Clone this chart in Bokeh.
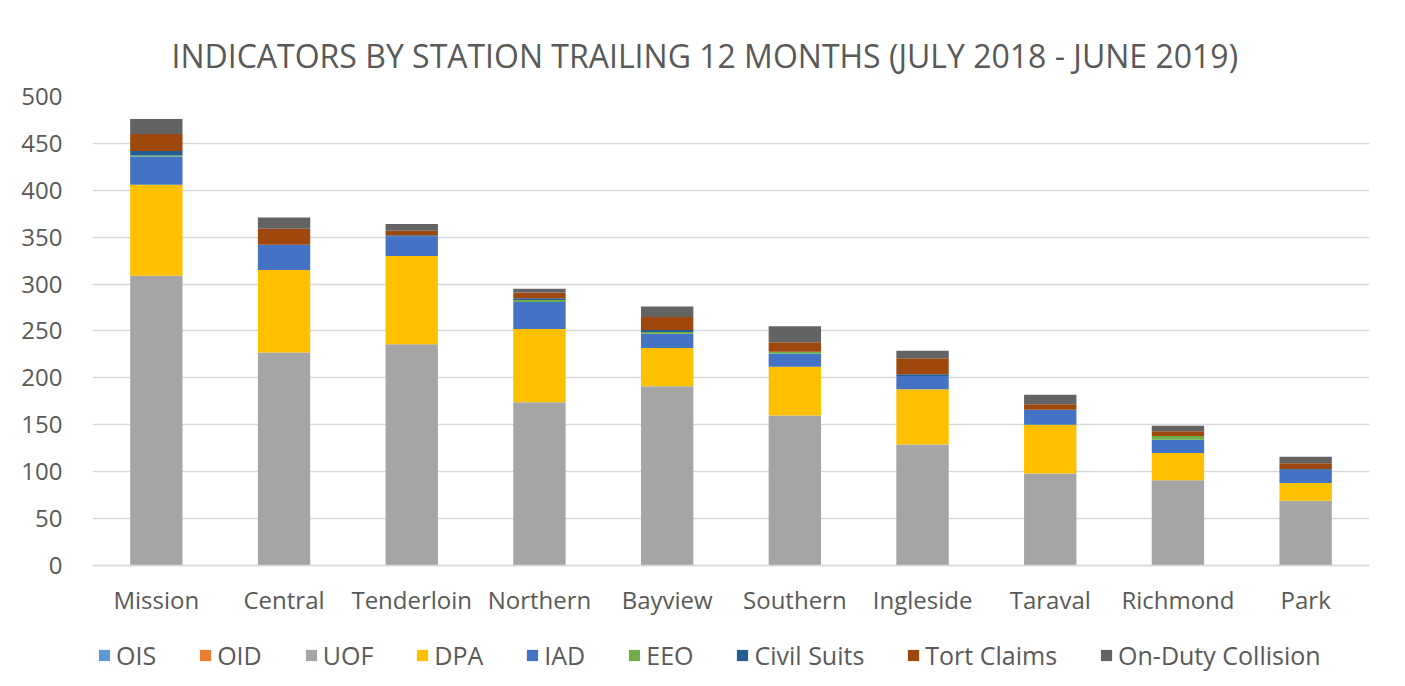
from bokeh.plotting import figure
from bokeh.models import Legend, LegendItem, Title, Range1d, FactorRange, ColumnDataSource
from bokeh.embed import file_html
from bokeh.resources import INLINE

stations = ["Mission", "Central", "Tenderloin", "Northern", "Bayview", "Southern",
            "Ingleside", "Taraval", "Richmond", "Park"]
OIS = [0, 0, 0, 0, 0, 0, 0, 0, 0, 0]
OID = [0, 0, 0, 0, 0, 0, 0, 0, 0, 0]
UOF = [309, 227, 236, 174, 191, 160, 129, 98, 91, 69]
DPA = [97, 88, 94, 78, 41, 52, 59, 52, 29, 19]
IAD = [30, 27, 21, 29, 15, 14, 14, 16, 14, 14]
EEO = [1, 0, 0, 2, 2, 2, 0, 0, 4, 0]
CIVIL = [5, 0, 1, 2, 2, 0, 2, 0, 0, 1]
TORT = [18, 17, 5, 6, 14, 10, 17, 6, 5, 6]
COLLISION = [16, 12, 7, 4, 11, 17, 8, 10, 6, 7]
y_ticks = [0, 50, 100, 150, 200, 250, 300, 350, 400, 450, 500]

series = ["OIS", "OID", "UOF", "DPA", "IAD", "EEO", "Civil Suits", "Tort Claims", "On-Duty Collision"]
colors = ["#5B9BD5", "#ED7D31", "#A5A5A5", "#FFC000", "#4472C4", "#70AD47", "#255E91", "#9E480E", "#636363"]

src = ColumnDataSource(data={
    "station": stations, "OIS": OIS, "OID": OID, "UOF": UOF, "DPA": DPA, "IAD": IAD,
    "EEO": EEO, "Civil Suits": CIVIL, "Tort Claims": TORT, "On-Duty Collision": COLLISION,
})

FONT = "Open Sans"
TXT = "#595959"

# frame reaches the bottom of the window; the value axis runs 0..500 and the
# space under zero holds the category labels and the legend
p = figure(x_range=FactorRange(*stations, range_padding=0), y_range=Range1d(-129, 500),
           frame_width=1277, frame_height=590, output_backend="svg", toolbar_location=None,
           min_border_left=92, min_border_right=28, min_border_top=96, min_border_bottom=0)

renderers = p.vbar_stack(series, x="station", width=0.41, color=colors, source=src,
                         line_color=None)

t = Title(text="INDICATORS BY STATION TRAILING 12 MONTHS (JULY 2018 - JUNE 2019)",
          align="left", offset=79, text_font=FONT, text_font_size="32px", text_color=TXT,
          text_font_style="normal", standoff=39)
p.add_layout(t, "above")

p.yaxis.ticker = y_ticks
p.yaxis.axis_line_color = None
p.yaxis.major_tick_line_color = None
p.yaxis.minor_tick_line_color = None
p.yaxis.major_label_text_font = FONT
p.yaxis.major_label_text_font_size = "24px"
p.yaxis.major_label_text_color = TXT
p.yaxis.major_label_standoff = 24

p.xaxis.fixed_location = 0
p.xaxis.axis_line_color = "#d9d9d9"
p.xaxis.axis_line_width = 1.5
p.xaxis.major_tick_line_color = None
p.xaxis.minor_tick_line_color = None
p.xaxis.major_label_text_font = FONT
p.xaxis.major_label_text_font_size = "24px"
p.xaxis.major_label_text_color = TXT
p.xaxis.major_label_standoff = 12

p.xgrid.grid_line_color = None
p.ygrid.grid_line_color = "#d9d9d9"
p.ygrid.grid_line_width = 1.5
p.outline_line_color = None

items = [LegendItem(label=s, renderers=[r]) for s, r in zip(series, renderers)]
legend = Legend(items=items, orientation="horizontal", location=(5, 14),
                label_text_font=FONT, label_text_font_size="25px", label_text_color=TXT,
                glyph_width=14, glyph_height=14, spacing=42, label_standoff=5,
                border_line_color=None, background_fill_alpha=0, margin=0, padding=0)
p.add_layout(legend)

open("out.html", "w").write(file_html(p, INLINE))
